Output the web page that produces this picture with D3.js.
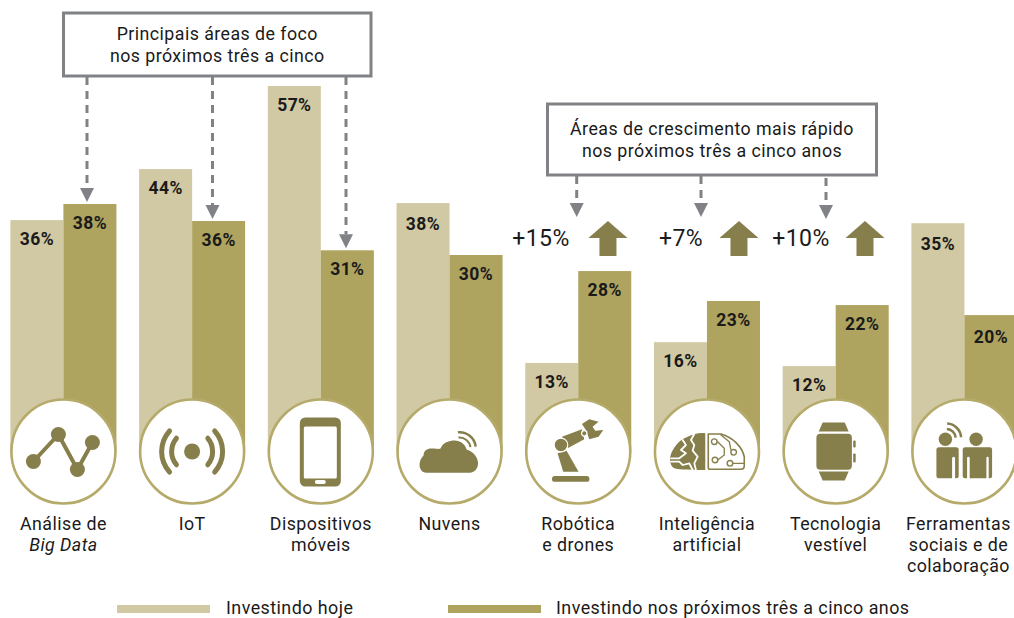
<!DOCTYPE html>
<html>
<head>
<meta charset="utf-8">
<script src="https://cdn.jsdelivr.net/npm/d3@7"></script>
<style>
  html, body { margin: 0; padding: 0; background: #fff; overflow: hidden; }
  text { font-family: Roboto, sans-serif; fill: #1a1a1a; letter-spacing: 0.45px; }
</style>
</head>
<body>
<div id="chart"></div>
<script>
// values
const categories = ["Análise de Big Data", "IoT", "Dispositivos móveis", "Nuvens",
  "Robótica e drones", "Inteligência artificial", "Tecnologia vestível",
  "Ferramentas sociais e de colaboração"];
const categoryLines = [["Análise de", "Big Data"], ["IoT"], ["Dispositivos", "móveis"], ["Nuvens"],
  ["Robótica", "e drones"], ["Inteligência", "artificial"], ["Tecnologia", "vestível"],
  ["Ferramentas", "sociais e de", "colaboração"]];
const seriesNames = ["Investindo hoje", "Investindo nos próximos três a cinco anos"];
const today = [35.7, 43.8, 57, 38.4, 13, 16.3, 12.5, 35.2];
const future = [38.25, 35.55, 30.9, 30.15, 27.6, 22.85, 22.2, 20.6];
const todayLabels = ["36%", "44%", "57%", "38%", "13%", "16%", "12%", "35%"];
const futureLabels = ["38%", "36%", "31%", "30%", "28%", "23%", "22%", "20%"];
const focusIndex = [0, 1, 2];     // first callout points at these
const growthIndex = [4, 5, 6];    // second callout points at these
const growthLabels = ["+15%", "+7%", "+10%"];
const focusTitle = ["Principais áreas de foco", "nos próximos três a cinco"];
const growthTitle = ["Áreas de crescimento mais rápido", "nos próximos três a cinco anos"];

const width = 1014, height = 618;
const lightColor = "#d1c9a3", darkColor = "#aea35f", iconColor = "#867e4b",
  ringColor = "#b5aa6a", greyColor = "#808285";

let svg = d3.select("#chart").append("svg")
  .attr("width", width)
  .attr("height", height)
  .style("display", "block");

let x = d3.scaleBand().domain(d3.range(8)).range([10.4, 1017.4]).paddingInner(0.1764);
let xSeries = d3.scaleBand().domain([0, 1]).range([0, x.bandwidth()]);
let y = d3.scaleLinear().domain([0, 57]).range([444.8, 86]);

// rows of one bar each
let bars = [];
categories.forEach((c, i) => {
  bars.push({ i: i, s: 0, value: today[i], label: todayLabels[i] });
  bars.push({ i: i, s: 1, value: future[i], label: futureLabels[i] });
});

svg.append("g").selectAll("rect")
  .data(bars)
  .enter()
  .append("rect")
    .attr("x", d => x(d.i) + xSeries(d.s))
    .attr("y", d => y(d.value))
    .attr("width", xSeries.bandwidth())
    .attr("height", d => y(0) + 7 - y(d.value)) // runs on behind the badge
    .attr("fill", d => d.s == 0 ? lightColor : darkColor);

// a few labels sit lower in their bar
function labelDrop(d) {
  if (d.i == 7 && d.s == 1) return 28;
  if ((d.i == 3 || d.i == 7) && d.s == 0) return 27;
  return 25;
}

svg.append("g").selectAll("text")
  .data(bars)
  .enter()
  .append("text")
    .attr("x", d => x(d.i) + xSeries(d.s) + xSeries.bandwidth() / 2)
    .attr("y", d => y(d.value) + labelDrop(d))
    .attr("text-anchor", "middle")
    .style("font-size", "17.5px")
    .style("font-weight", 700)
    .text(d => d.label);

// badges
let badges = svg.append("g").selectAll("g")
  .data(categories)
  .enter()
  .append("g")
    .attr("transform", (d, i) => "translate(" + (x(i) + x.bandwidth() / 2) + ",451.5)");

badges.append("circle")
  .attr("r", 52)
  .attr("fill", "#fff")
  .attr("stroke", ringColor)
  .attr("stroke-width", 2.6);

let iconDrawers = [drawChartIcon, drawSignalIcon, drawPhoneIcon, drawCloudIcon,
  drawRobotIcon, drawBrainIcon, drawWatchIcon, drawPeopleIcon];
badges.each(function(d, i) { iconDrawers[i](d3.select(this)); });

// category labels
svg.append("g").selectAll("text")
  .data(categoryLines)
  .enter()
  .append("text")
    .attr("text-anchor", "middle")
    .attr("transform", (d, i) => "translate(" + (x(i) + x.bandwidth() / 2 + (i == 7 ? -6 : 0)) + ",530)")
    .style("font-size", "17.8px")
    .selectAll("tspan")
    .data(d => d)
    .enter()
    .append("tspan")
      .attr("x", 0)
      .attr("y", (d, j) => j * 21)
      .style("font-style", d => d == "Big Data" ? "italic" : "normal")
      .text(d => d);

// callouts
drawCallout(63.5, 13, 307.5, 63, focusTitle, 39.5, 61.5);
drawCallout(547.5, 104, 329, 71, growthTitle, 135, 156.5);

function drawCallout(bx, by, bw, bh, lines, y1, y2) {
  svg.append("rect")
    .attr("x", bx).attr("y", by).attr("width", bw).attr("height", bh)
    .attr("fill", "#fff").attr("stroke", greyColor).attr("stroke-width", 3);
  svg.append("text")
    .attr("x", bx + bw / 2).attr("y", y1).attr("text-anchor", "middle")
    .style("font-size", "17.8px").text(lines[0]);
  svg.append("text")
    .attr("x", bx + bw / 2).attr("y", y2).attr("text-anchor", "middle")
    .style("font-size", "17.8px").text(lines[1]);
}

// dashed arrows from the callouts down to their bars
const focusArrowX = [87, 212.5, 346];
focusIndex.forEach((c, k) => {
  drawDashArrow(focusArrowX[k], 77, y(future[c]) - 2);
});
const growthArrowX = [576.7, 701, 826];
const growthArrowTip = [217, 217, 219];
growthIndex.forEach((c, k) => {
  drawDashArrow(growthArrowX[k], k == 2 ? 178 : 176, growthArrowTip[k]);
});

function drawDashArrow(ax, y1, tip) {
  svg.append("line")
    .attr("x1", ax).attr("x2", ax).attr("y1", y1).attr("y2", tip - 14)
    .attr("stroke", greyColor).attr("stroke-width", 3)
    .attr("stroke-dasharray", "8 6");
  svg.append("path")
    .attr("d", "M" + (ax - 7) + "," + (tip - 14) + "H" + (ax + 7) + "L" + ax + "," + tip + "Z")
    .attr("fill", greyColor);
}

// growth labels and big up arrows
const growthTextX = [541, 681, 801];
const upArrowShift = [3.2, 5.5, 2.8];
growthIndex.forEach((c, k) => {
  svg.append("text")
    .attr("x", growthTextX[k]).attr("y", 246).attr("text-anchor", "middle")
    .style("font-size", "23px").text(growthLabels[k]);
  let cx = x(c) + xSeries(1) + xSeries.bandwidth() / 2 + upArrowShift[k];
  svg.append("path")
    .attr("d", "M" + cx + ",221l19.5,17h-11v18h-17v-18h-11z")
    .attr("fill", iconColor);
});

// legend
const legendX = [117, 448], legendTextX = [226, 556];
seriesNames.forEach((name, k) => {
  svg.append("rect")
    .attr("x", legendX[k]).attr("y", 605).attr("width", 93).attr("height", 8)
    .attr("fill", k == 0 ? lightColor : darkColor);
  svg.append("text")
    .attr("x", legendTextX[k]).attr("y", 613.5)
    .style("font-size", "17.9px").text(name);
});

//////// icons, drawn around the badge centre

function fillPath(g, d, color) {
  return g.append("path").attr("d", d).attr("fill", color || iconColor);
}
function strokePath(g, d, w, color) {
  return g.append("path").attr("d", d).attr("fill", "none")
    .attr("stroke", color || iconColor).attr("stroke-width", w)
    .attr("stroke-linecap", "round").attr("stroke-linejoin", "round");
}
function dot(g, cx, cy, r, color) {
  return g.append("circle").attr("cx", cx).attr("cy", cy).attr("r", r).attr("fill", color || iconColor);
}
function box(g, bx, by, bw, bh, rx, color) {
  return g.append("rect").attr("x", bx).attr("y", by).attr("width", bw).attr("height", bh)
    .attr("rx", rx).attr("fill", color || iconColor);
}

function drawChartIcon(g) {
  strokePath(g, "M-30,10L-5,-17L14,18L29,-9", 4);
  dot(g, -30, 10, 7.5); dot(g, -5, -17, 7.5); dot(g, 14, 18, 7.5); dot(g, 29, -9, 7.5);
}

function drawSignalIcon(g) {
  dot(g, 0, 0, 8);
  [[18, 23], [28, 33]].forEach(r => {
    [[43, 137], [-137, -43]].forEach(a => {
      fillPath(g, d3.arc().cornerRadius(2.5)({
        innerRadius: r[0], outerRadius: r[1],
        startAngle: a[0] * Math.PI / 180, endAngle: a[1] * Math.PI / 180
      }));
    });
  });
}

function drawPhoneIcon(g) {
  box(g, -21, -34, 41, 69, 5.5);
  box(g, -17, -25, 33, 52, 1.5, "#fff");
  box(g, -6, 28.5, 11, 4, 2, "#fff");
}

function drawCloudIcon(g) {
  fillPath(g, "M-23,21.2C-28,21.2 -30,17 -30,13C-30,9 -28,6 -26,4C-26,-1 -22,-3.5 -17,-3"
    + "C-13,-3 -11,-2 -9,-3C-7,-9 0,-11 5,-11C11,-11 16,-7 17,-2C24,0 28.5,6 28.5,12"
    + "C28.5,17 25,21.2 20,21.2Z");
  [[10, 12], [15, 17.5]].forEach(r => {
    fillPath(g, d3.arc()({
      innerRadius: r[0], outerRadius: r[1], startAngle: -0.1, endAngle: 1.45
    })).attr("transform", "translate(10,-3)");
  });
}

function drawRobotIcon(g) {
  box(g, -26.3, 24.5, 37.5, 5.8, 2.9);
  fillPath(g, "M-20.7,1.8L-11.7,-0.8L0.3,20.2H-15Z");
  fillPath(g, "M-16.3,-14.8L3.7,-22.2L6,-12.2L-10.7,-3.2Z");
  fillPath(g, "M3.7,-27.5L11,-32.2L20.3,-29.8L14.3,-24.8L17,-20.8L25,-21.5L20.3,-14.8L11,-12.2L7.7,-21.5Z");
  g.append("circle").attr("cx", -17.3).attr("cy", -6.5).attr("r", 6.8)
    .attr("fill", iconColor).attr("stroke", "#fff").attr("stroke-width", 1.2);
  g.append("circle").attr("cx", 6).attr("cy", -18.2).attr("r", 2.7)
    .attr("fill", iconColor).attr("stroke", "#fff").attr("stroke-width", 1.2);
}

function drawBrainIcon(g) {
  fillPath(g, "M-1.7,-18.2C-8,-19 -14,-17 -19.3,-14.8C-24,-13 -27,-11 -29.3,-8.2"
    + "C-33,-4 -36,1 -36.7,5.2C-37.5,10 -36,15 -32.7,16.8C-28,18.5 -12,18.5 -1.7,18.5Z");
  strokePath(g, "M-12.7,-17.5L-16,-11.5L-12.7,-6.5L-14.3,-0.8L-9.3,5.2L-12.7,11.8L-11,18.5", 1.8, "#fff");
  strokePath(g, "M-24.3,-11.5L-21,-6.5L-26,-1.5L-21,1.8L-27.7,6.8L-36,6.8", 1.8, "#fff");
  strokePath(g, "M-36,10.2L-27.7,10.2L-24.3,13.5L-17.7,11.8L-14.3,18.5", 1.8, "#fff");
  strokePath(g, "M1.3,-17.5H14C26,-14 35,-5 37.3,5.2V14C37.3,16.5 36,17.8 34,17.8H3C2,17.8 1.3,17 1.3,16Z", 1.6);
  strokePath(g, "M10.7,-9.8L17.3,-3.2V3.5L10.7,8.5", 1.3);
  strokePath(g, "M14,-16.5L22.3,-9.8L24,-1.5", 1.3);
  strokePath(g, "M25.7,11.8H37", 1.3);
  [[7.3, -9.8], [26.7, 0.8], [8, 8.5], [23, 11.8]].forEach(p => {
    g.append("circle").attr("cx", p[0]).attr("cy", p[1]).attr("r", 2.8)
      .attr("fill", "#fff").attr("stroke", iconColor).attr("stroke-width", 1.4);
  });
}

function drawWatchIcon(g) {
  box(g, -19.3, -17.7, 35.5, 36, 4);
  fillPath(g, "M-13,-29H9L13,-20H-17Z");
  fillPath(g, "M-17,20H13L9,29H-13Z");
  box(g, 17.5, -11, 2.5, 7, 1);
  box(g, 17.5, 2, 2.5, 9, 1);
}

function drawPeopleIcon(g) {
  dot(g, -19, -12.2, 6.7);
  dot(g, 11.7, -12.2, 6.7);
  box(g, -28, -4.2, 22.3, 31, 2.5);
  box(g, -1.7, -4.2, 29.4, 31, 2.5);
  box(g, -12.3, 5.2, 3, 23, 1.5, "#fff");
  box(g, 2.7, 5.2, 2.6, 23, 1.3, "#fff");
  box(g, 22, 5.2, 2.3, 23, 1.1, "#fff");
  [[8, 10.5], [13.5, 16]].forEach(r => {
    fillPath(g, d3.arc()({
      innerRadius: r[0], outerRadius: r[1], startAngle: 0.05, endAngle: 1.5
    })).attr("transform", "translate(-18,-13.2)");
  });
}
</script>
</body>
</html>
